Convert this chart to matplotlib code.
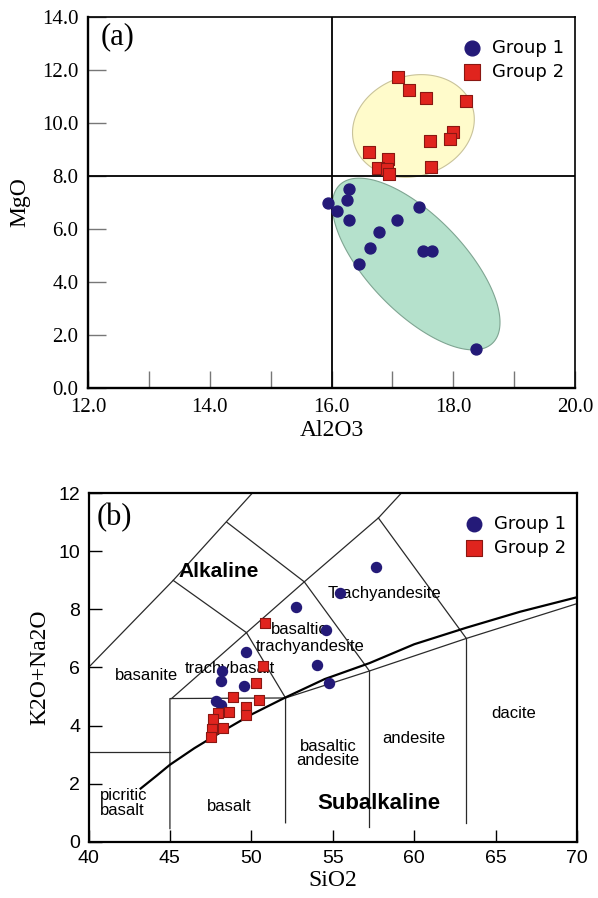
import numpy as np
import matplotlib.pyplot as plt
from matplotlib.ticker import FormatStrFormatter

# ---- panel (a): Al2O3 vs MgO ----
g1_al2o3 = [16.29, 16.25, 15.94, 16.09, 16.29, 17.44, 17.07, 16.78, 16.64, 17.51, 17.65, 16.45, 18.38]
g1_mgo = [7.51, 7.09, 6.97, 6.68, 6.34, 6.82, 6.34, 5.89, 5.30, 5.17, 5.17, 4.68, 1.46]
g2_al2o3 = [17.10, 17.28, 17.55, 18.21, 18.00, 17.94, 17.62, 16.62, 16.93, 16.76, 16.91, 17.64, 16.95]
g2_mgo = [11.72, 11.25, 10.95, 10.82, 9.65, 9.41, 9.33, 8.92, 8.64, 8.30, 8.26, 8.35, 8.08]

# ---- panel (b): TAS ----
g1_sio2 = [57.64, 55.47, 52.73, 54.61, 49.70, 54.06, 54.75, 48.17, 48.11, 49.54, 47.80, 48.13]
g1_alk = [9.45, 8.55, 8.08, 7.28, 6.55, 6.08, 5.46, 5.89, 5.54, 5.35, 4.86, 4.71]
g2_sio2 = [50.83, 50.73, 50.28, 50.48, 48.88, 49.70, 49.66, 48.64, 47.96, 48.27, 47.66, 47.56, 47.50]
g2_alk = [7.54, 6.05, 5.46, 4.88, 4.97, 4.63, 4.38, 4.46, 4.42, 3.92, 4.23, 3.89, 3.60]

# TAS field boundaries (SiO2, K2O+Na2O)
tas_lines = [
    [(40.0, 6.0), (45.2, 9.0), (50.05, 12.0)],
    [(48.5, 11.0), (53.25, 8.95)],
    [(45.2, 9.0), (49.7, 7.2), (52.1, 4.95)],
    [(49.7, 7.2), (45.1, 4.93)],
    [(49.7, 7.2), (53.25, 8.95), (57.8, 11.15), (59.2, 12.0)],
    [(53.25, 8.95), (57.25, 5.88)],
    [(57.8, 11.15), (63.2, 7.0)],
    [(52.1, 4.95), (57.25, 5.88), (63.2, 7.0), (70.0, 8.2)],
    [(45.0, 0.45), (45.0, 4.93), (52.1, 4.95), (52.1, 0.65)],
    [(57.25, 0.5), (57.25, 5.88)],
    [(63.2, 0.65), (63.2, 7.0)],
    [(40.0, 3.1), (45.0, 3.1)],
]
# Irvine & Baragar alkaline / subalkaline divide
ib_sio2 = [43.2, 44.2, 45.0, 46.5, 48.0, 50.0, 52.1, 54.5, 57.25, 60.0, 63.2, 66.5, 70.0]
ib_alk = [1.83, 2.28, 2.65, 3.22, 3.73, 4.38, 4.97, 5.6, 6.15, 6.8, 7.37, 7.92, 8.42]

tas_labels = [
    ("basanite", 43.57, 5.72, "center", "normal", 12),
    ("trachybasalt", 48.68, 5.97, "center", "normal", 12),
    ("basaltic", 52.95, 7.32, "center", "normal", 12),
    ("trachyandesite", 53.6, 6.71, "center", "normal", 12),
    ("Trachyandesite", 58.2, 8.54, "center", "normal", 12),
    ("picritic\nbasalt", 40.7, 1.33, "left", "normal", 12),
    ("basalt", 48.64, 1.22, "center", "normal", 12),
    ("basaltic\nandesite", 54.7, 3.03, "center", "normal", 12),
    ("andesite", 60.0, 3.54, "center", "normal", 12),
    ("dacite", 66.13, 4.4, "center", "normal", 12),
    ("Alkaline", 47.97, 9.31, "center", "bold", 15),
    ("Subalkaline", 57.82, 1.32, "center", "bold", 16),
]

navy = "#241a78"
red = "#e0241e"
red_edge = "#8a1712"
serif = "Liberation Serif"
sans = "Liberation Sans"


def blob(ax, cx, cy, a_px, b_px, ang_deg, ax_w, ax_h, **kw):
    # ellipse drawn in axes pixel space, centred on a data point
    x0, x1 = ax.get_xlim()
    y0, y1 = ax.get_ylim()
    fx = (cx - x0) / (x1 - x0)
    fy = (cy - y0) / (y1 - y0)
    t = np.linspace(0, 2 * np.pi, 200)
    th = np.radians(ang_deg)
    px = a_px * np.cos(t) * np.cos(th) - b_px * np.sin(t) * np.sin(th)
    py = a_px * np.cos(t) * np.sin(th) + b_px * np.sin(t) * np.cos(th)
    ax.fill(fx + px / ax_w, fy + py / ax_h, transform=ax.transAxes, **kw)


fig = plt.figure(figsize=(5.98, 8.98), dpi=100)

# ================= (a) =================
ax1 = fig.add_axes([0.1472, 0.5679, 0.8144, 0.4131])
ax1.set_xlim(12, 20)
ax1.set_ylim(0, 14)
blob(ax1, 17.345, 9.89, 62, 50, 18.6, 487, 371, facecolor="#fffbcb",
     edgecolor="#c9c39a", linewidth=0.8, zorder=1)
blob(ax1, 17.39, 4.68, 110, 48, -46, 487, 371, facecolor="#b5e1cc",
     edgecolor="#7fa592", linewidth=0.8, zorder=1)
ax1.axvline(16, color="black", lw=1.3, zorder=2)
ax1.axhline(8, color="black", lw=1.3, zorder=2)
h1 = ax1.scatter(g1_al2o3, g1_mgo, s=62, c=navy, zorder=3, label="Group 1")
h2 = ax1.scatter(g2_al2o3, g2_mgo, s=80, c=red, marker="s", edgecolors=red_edge,
                 linewidths=0.8, zorder=3, label="Group 2")

ax1.set_xticks([12, 14, 16, 18, 20])
ax1.set_yticks([0, 2, 4, 6, 8, 10, 12, 14])
ax1.set_xticks([13, 15, 17, 19], minor=True)
ax1.xaxis.set_major_formatter(FormatStrFormatter("%.1f"))
ax1.yaxis.set_major_formatter(FormatStrFormatter("%.1f"))
ax1.tick_params(which="both", direction="in", length=12, width=1.0,
                color="#777777", pad=7, labelsize=15)
ax1.tick_params(axis="y", length=13)
for lab in ax1.get_xticklabels() + ax1.get_yticklabels():
    lab.set_fontfamily(serif)
for s in ["left", "bottom"]:
    ax1.spines[s].set_linewidth(1.7)
for s in ["top", "right"]:
    ax1.spines[s].set_linewidth(1.2)
ax1.set_xlabel("Al2O3", fontfamily=serif, fontsize=17, labelpad=2)
ax1.set_ylabel("MgO", fontfamily=serif, fontsize=17, labelpad=8)
ax1.text(0.025, 0.946, "(a)", transform=ax1.transAxes, fontfamily=serif,
         fontsize=22, va="center", ha="left")
ax1.legend(handles=[h1, h2], loc="upper right", bbox_to_anchor=(1.01, 0.985),
           frameon=False, markerscale=1.35, handletextpad=0.1,
           labelspacing=0.35, prop={"family": "DejaVu Sans", "size": 13})

# ================= (b) =================
ax2 = fig.add_axes([0.148, 0.0627, 0.817, 0.388])
ax2.set_xlim(40, 70)
ax2.set_ylim(0, 12)
for seg in tas_lines:
    xs, ys = zip(*seg)
    ax2.plot(xs, ys, color="#2a2a2a", lw=0.9, zorder=1)
ax2.plot(ib_sio2, ib_alk, color="black", lw=1.6, zorder=1)
for txt, x, y, ha, wt, fs in tas_labels:
    ax2.text(x, y, txt, ha=ha, va="center", fontsize=fs, fontweight=wt,
             fontfamily=sans, linespacing=0.95, zorder=2)
k1 = ax2.scatter(g1_sio2, g1_alk, s=52, c=navy, zorder=3, label="Group 1")
k2 = ax2.scatter(g2_sio2, g2_alk, s=62, c=red, marker="s", edgecolors=red_edge,
                 linewidths=0.8, zorder=3, label="Group 2")

ax2.set_xticks([40, 45, 50, 55, 60, 65, 70])
ax2.set_yticks([0, 2, 4, 6, 8, 10, 12])
ax2.tick_params(direction="in", length=9, width=1.0, pad=6, labelsize=14)
for lab in ax2.get_xticklabels() + ax2.get_yticklabels():
    lab.set_fontfamily(sans)
for s in ax2.spines.values():
    s.set_linewidth(1.6)
ax2.set_xlabel("SiO2", fontfamily=serif, fontsize=17, labelpad=2)
ax2.set_ylabel("K2O+Na2O", fontfamily=serif, fontsize=17, labelpad=6)
ax2.text(0.017, 0.929, "(b)", transform=ax2.transAxes, fontfamily=serif,
         fontsize=22, va="center", ha="left")
ax2.legend(handles=[k1, k2], loc="upper right", bbox_to_anchor=(1.01, 0.985),
           frameon=False, markerscale=1.45, handletextpad=0.1,
           labelspacing=0.35, prop={"family": "DejaVu Sans", "size": 13})

fig.savefig("out.png", dpi=100)
